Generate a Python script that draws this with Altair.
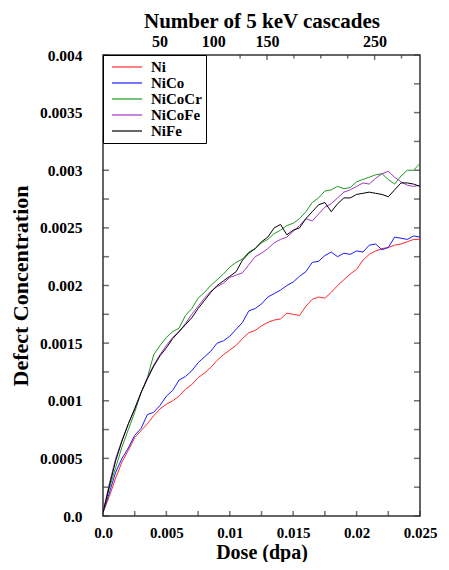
import altair as alt
import pandas as pd

dose = [i * 0.0005 for i in range(51)]

ni = [0.00003, 0.00017, 0.00033, 0.00047, 0.00057, 0.00068, 0.00074, 0.0008, 0.00087, 0.00093,
      0.00097, 0.001, 0.00104, 0.0011, 0.00114, 0.0012, 0.00124, 0.00129, 0.00135, 0.0014,
      0.00144, 0.00148, 0.00154, 0.00159, 0.00161, 0.00165, 0.00168, 0.0017, 0.00171, 0.00176,
      0.00175, 0.00174, 0.00182, 0.00188, 0.0019, 0.00189, 0.00194, 0.002, 0.00205, 0.0021,
      0.00214, 0.00222, 0.00227, 0.0023, 0.00232, 0.00233, 0.00235, 0.00236, 0.00238, 0.0024, 0.0024]
nico = [0.00003, 0.0002, 0.00038, 0.0005, 0.00059, 0.0007, 0.00076, 0.00088, 0.0009, 0.00096,
        0.00104, 0.00109, 0.00118, 0.00121, 0.00126, 0.00133, 0.00138, 0.00143, 0.0015, 0.00152,
        0.00156, 0.00162, 0.00168, 0.00178, 0.0018, 0.00184, 0.0019, 0.00193, 0.00196, 0.002,
        0.00203, 0.00208, 0.00212, 0.0022, 0.00221, 0.00226, 0.00229, 0.00225, 0.00228, 0.00227,
        0.0023, 0.00229, 0.00235, 0.00236, 0.00231, 0.00233, 0.00242, 0.00241, 0.0024, 0.00243, 0.00242]
nicocr = [0.00003, 0.00024, 0.00042, 0.0006, 0.00075, 0.0009, 0.00107, 0.0012, 0.0014, 0.00148,
          0.00155, 0.0016, 0.00163, 0.00174, 0.0018, 0.00189, 0.00194, 0.002, 0.00205, 0.0021,
          0.00216, 0.0022, 0.00223, 0.00229, 0.00232, 0.00237, 0.0024, 0.00245, 0.00248, 0.00252,
          0.00254, 0.00258, 0.00264, 0.00272, 0.00276, 0.00282, 0.00283, 0.00286, 0.00284, 0.00285,
          0.0029, 0.00292, 0.00294, 0.00296, 0.00297, 0.00292, 0.00288, 0.00295, 0.003, 0.003, 0.00306]
nicofe = [0.00003, 0.00028, 0.0005, 0.00066, 0.0008, 0.00093, 0.00107, 0.0012, 0.00131, 0.0014,
          0.00148, 0.00155, 0.0016, 0.00167, 0.00175, 0.00182, 0.00189, 0.00195, 0.00199, 0.00202,
          0.00207, 0.00209, 0.00211, 0.00218, 0.00225, 0.00228, 0.00232, 0.00237, 0.0024, 0.00242,
          0.00247, 0.00252, 0.00258, 0.00256, 0.00262, 0.00268, 0.00271, 0.00276, 0.00281, 0.00283,
          0.00286, 0.00289, 0.00288, 0.00293, 0.00297, 0.00299, 0.00294, 0.0029, 0.00287, 0.00286, 0.00287]
nife = [0.00003, 0.00026, 0.00048, 0.00065, 0.0008, 0.00093, 0.00107, 0.00119, 0.0013, 0.00139,
        0.00146, 0.00154, 0.0016, 0.00166, 0.00172, 0.0018, 0.00187, 0.00194, 0.002, 0.00204,
        0.00208, 0.00212, 0.00222, 0.00228, 0.00232, 0.00238, 0.00242, 0.0025, 0.00253, 0.00244,
        0.00248, 0.0025, 0.00258, 0.00264, 0.0027, 0.00272, 0.00264, 0.00271, 0.00276, 0.00276,
        0.00279, 0.0028, 0.00281, 0.0028, 0.00279, 0.00277, 0.00283, 0.00289, 0.00289, 0.00288, 0.00286]

series_names = ["Ni", "NiCo", "NiCoCr", "NiCoFe", "NiFe"]
series_values = [ni, nico, nicocr, nicofe, nife]
series_colors = ["#ff2a2a", "#1a1aff", "#1f9a1f", "#a335c2", "#000000"]

x_ticks = [i * 0.0025 for i in range(11)]
y_ticks = [i * 0.00025 for i in range(17)]
x_min, x_max = 0.0, 0.025
y_min, y_max = 0.0, 0.004

# top axis: number of 5 keV cascades mapped to dose
casc_offset = 0.000205
casc_step = 8.486e-5
top_label_cascades = [50, 100, 150, 250]
top_major_cascades = [150, 250]
top_minor_cascades = [125, 175, 200, 225, 275]
top_label_dose = [casc_offset + casc_step * c for c in top_label_cascades]
top_major_dose = [casc_offset + casc_step * c for c in top_major_cascades]
top_minor_dose = [casc_offset + casc_step * c for c in top_minor_cascades]

rows = []
for name, vals in zip(series_names, series_values):
    for d, v in zip(dose, vals):
        rows.append({"dose": d, "conc": v, "alloy": name})
df = pd.DataFrame(rows)

FONT = "Liberation Serif"
TICK = "#333333"
xscale = alt.Scale(domain=[x_min, x_max], nice=False, zero=False)
yscale = alt.Scale(domain=[y_min, y_max], nice=False, zero=False)

common = dict(grid=False, domain=False, ticks=False,
              labelFont=FONT, labelFontWeight="bold", labelColor="black",
              titleFont=FONT, titleFontWeight="bold", titleColor="black",
              labelOverlap=False, labelFlush=False)

lines = alt.Chart(df).mark_line(strokeWidth=1, clip=True).encode(
    x=alt.X("dose:Q", scale=xscale, axis=alt.Axis(
        orient="bottom", values=x_ticks, title="Dose (dpa)",
        labelExpr="round(datum.value/0.0025) % 2 == 1 ? '' : (datum.value == 0 ? '0.0' : format(datum.value, '.3~f'))",
        labelPadding=9, labelFontSize=15, titleFontSize=20, titlePadding=2, **common)),
    y=alt.Y("conc:Q", scale=yscale, axis=alt.Axis(
        orient="left", values=y_ticks, title="Defect Concentration",
        labelExpr="round(datum.value/0.00025) % 2 == 1 ? '' : (datum.value == 0 ? '0.0' : format(datum.value, '.4~f'))",
        labelPadding=21, labelFontSize=15.5, titleFontSize=22, titlePadding=7, **common)),
    color=alt.Color("alloy:N", scale=alt.Scale(domain=series_names, range=series_colors),
                    legend=alt.Legend(title=None, orient="top-left", offset=0,
                                      strokeColor="black", fillColor="white", padding=4,
                                      symbolType="M-2.07,0H2.07", symbolSize=210,
                                      symbolStrokeWidth=1.2, symbolOffset=12,
                                      labelFont=FONT, labelFontWeight="bold", labelFontSize=15,
                                      labelColor="black", rowPadding=0, labelOffset=16)),
    order=alt.Order("dose:Q"),
)

top_axis = alt.Chart(pd.DataFrame({"d": top_label_dose})).mark_point(opacity=0).encode(
    x=alt.X("d:Q", scale=xscale, axis=alt.Axis(
        orient="top", values=top_label_dose, title="Number of 5 keV cascades",
        labelExpr=f"'' + round((datum.value-{casc_offset})/{casc_step})",
        labelPadding=6, labelFontSize=16, titleFontSize=21, titlePadding=2, **common)),
)

# inward tick marks on the frame: a tick centred on the edge, shifted inward by half its length
def tick_layer(xs, ys, orient, length, dx=0, dy=0):
    data = pd.DataFrame({"x": xs, "y": ys})
    return alt.Chart(data).mark_tick(orient=orient, thickness=1.5, size=length, color=TICK,
                                     xOffset=dx, yOffset=dy).encode(
        x=alt.X("x:Q", scale=xscale, axis=None),
        y=alt.Y("y:Q", scale=yscale, axis=None),
    )

left_ticks = tick_layer([x_min] * len(y_ticks), y_ticks, "horizontal", 6, dx=3)
right_ticks = tick_layer([x_max] * len(y_ticks), y_ticks, "horizontal", 6, dx=-3)
bottom_ticks = tick_layer(x_ticks, [y_min] * len(x_ticks), "vertical", 5, dy=-2.5)
top_major_ticks = tick_layer(top_major_dose, [y_max] * len(top_major_dose), "vertical", 5, dy=2.5)
top_minor_ticks = tick_layer(top_minor_dose, [y_max] * len(top_minor_dose), "vertical", 3.5, dy=1.75)

chart = alt.layer(left_ticks, right_ticks, bottom_ticks, top_major_ticks, top_minor_ticks,
                  lines, top_axis).resolve_scale(
    x="independent", y="independent"
).properties(
    width=317, height=461,
    autosize=alt.AutoSizeParams(type="none"),
    padding={"left": 95, "top": 47, "right": 21, "bottom": 46},
).configure(font=FONT).configure_view(stroke="#333333", strokeWidth=1.5)

chart.save("out.html", embed_options={"renderer": "svg", "actions": False})
